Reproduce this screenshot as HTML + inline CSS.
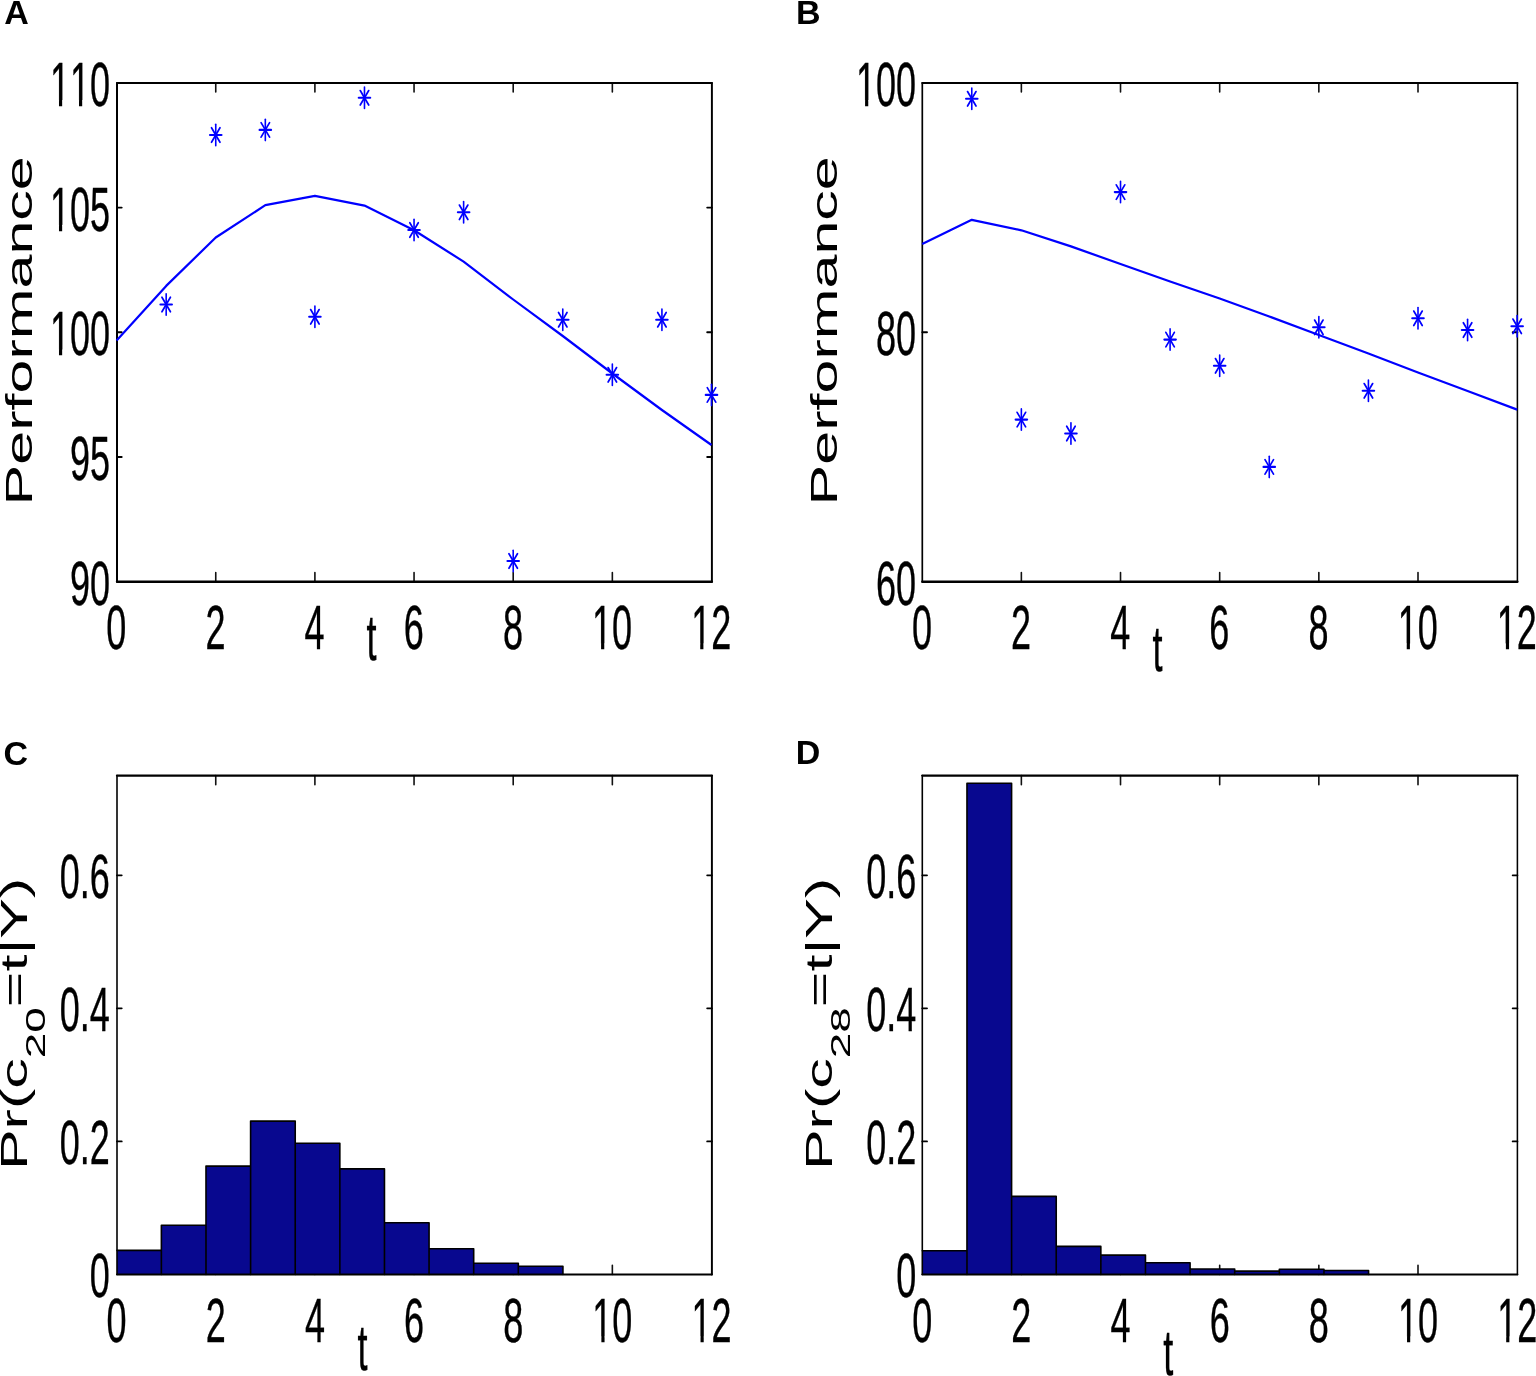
<!DOCTYPE html>
<html lang="en"><head><meta charset="utf-8"><title>Figure</title>
<style>
html,body{margin:0;padding:0;background:#fff;}
svg{display:block;}
svg text{font-family:"Liberation Sans", Arial, Helvetica, sans-serif;fill:#000;font-kerning:none;}
</style></head><body>
<svg width="1536" height="1376" viewBox="0 0 1536 1376">
<rect width="1536" height="1376" fill="#fff"/>
<g id="A">
<path d="M215.75,581.70v-9.1M215.75,82.90v9.1M314.90,581.70v-9.1M314.90,82.90v9.1M414.05,581.70v-9.1M414.05,82.90v9.1M513.20,581.70v-9.1M513.20,82.90v9.1M612.35,581.70v-9.1M612.35,82.90v9.1" stroke="#111" stroke-width="1.6" stroke-linecap="round" fill="none"/>
<path d="M117.00,207.60h4.7M711.90,207.60h-4.7M117.00,332.30h4.7M711.90,332.30h-4.7M117.00,457.00h4.7M711.90,457.00h-4.7" stroke="#000" stroke-width="1.9" stroke-linecap="round" fill="none"/>
<g stroke="#000" fill="none" stroke-linecap="round"><path d="M117.0,82.9V581.7" stroke-width="2.0"/><path d="M711.9,82.9V581.7" stroke-width="1.95"/><path d="M117.0,82.9H711.9" stroke-width="2.05"/><path d="M117.0,581.7H711.9" stroke-width="2.35"/></g>
<polyline points="116.60,340.40 166.18,285.90 215.75,237.50 265.33,205.20 314.90,195.90 364.48,205.60 414.05,230.30 463.62,261.60 513.20,299.50 562.77,336.00 612.35,373.50 661.93,410.00 711.50,445.00" fill="none" stroke="#0000ff" stroke-width="2.2" stroke-linejoin="round"/>
<g stroke="#0000ff" fill="none" stroke-linecap="round"><path d="M166.18,293.80V315.20" stroke-width="1.6"/><path d="M160.43,304.50H171.93" stroke-width="2.1"/><path d="M161.93,297.25L170.43,311.75M161.93,311.75L170.43,297.25" stroke-width="1.7"/></g>
<g stroke="#0000ff" fill="none" stroke-linecap="round"><path d="M215.75,124.30V145.70" stroke-width="1.6"/><path d="M210.00,135.00H221.50" stroke-width="2.1"/><path d="M211.50,127.75L220.00,142.25M211.50,142.25L220.00,127.75" stroke-width="1.7"/></g>
<g stroke="#0000ff" fill="none" stroke-linecap="round"><path d="M265.33,119.20V140.60" stroke-width="1.6"/><path d="M259.58,129.90H271.08" stroke-width="2.1"/><path d="M261.08,122.65L269.58,137.15M261.08,137.15L269.58,122.65" stroke-width="1.7"/></g>
<g stroke="#0000ff" fill="none" stroke-linecap="round"><path d="M314.90,306.10V327.50" stroke-width="1.6"/><path d="M309.15,316.80H320.65" stroke-width="2.1"/><path d="M310.65,309.55L319.15,324.05M310.65,324.05L319.15,309.55" stroke-width="1.7"/></g>
<g stroke="#0000ff" fill="none" stroke-linecap="round"><path d="M364.48,87.10V108.50" stroke-width="1.6"/><path d="M358.73,97.80H370.23" stroke-width="2.1"/><path d="M360.23,90.55L368.73,105.05M360.23,105.05L368.73,90.55" stroke-width="1.7"/></g>
<g stroke="#0000ff" fill="none" stroke-linecap="round"><path d="M414.05,219.30V240.70" stroke-width="1.6"/><path d="M408.30,230.00H419.80" stroke-width="2.1"/><path d="M409.80,222.75L418.30,237.25M409.80,237.25L418.30,222.75" stroke-width="1.7"/></g>
<g stroke="#0000ff" fill="none" stroke-linecap="round"><path d="M463.62,201.60V223.00" stroke-width="1.6"/><path d="M457.88,212.30H469.38" stroke-width="2.1"/><path d="M459.38,205.05L467.88,219.55M459.38,219.55L467.88,205.05" stroke-width="1.7"/></g>
<g stroke="#0000ff" fill="none" stroke-linecap="round"><path d="M513.20,550.30V571.70" stroke-width="1.6"/><path d="M507.45,561.00H518.95" stroke-width="2.1"/><path d="M508.95,553.75L517.45,568.25M508.95,568.25L517.45,553.75" stroke-width="1.7"/></g>
<g stroke="#0000ff" fill="none" stroke-linecap="round"><path d="M562.77,309.00V330.40" stroke-width="1.6"/><path d="M557.02,319.70H568.52" stroke-width="2.1"/><path d="M558.52,312.45L567.02,326.95M558.52,326.95L567.02,312.45" stroke-width="1.7"/></g>
<g stroke="#0000ff" fill="none" stroke-linecap="round"><path d="M612.35,364.10V385.50" stroke-width="1.6"/><path d="M606.60,374.80H618.10" stroke-width="2.1"/><path d="M608.10,367.55L616.60,382.05M608.10,382.05L616.60,367.55" stroke-width="1.7"/></g>
<g stroke="#0000ff" fill="none" stroke-linecap="round"><path d="M661.93,309.00V330.40" stroke-width="1.6"/><path d="M656.18,319.70H667.68" stroke-width="2.1"/><path d="M657.68,312.45L666.18,326.95M657.68,326.95L666.18,312.45" stroke-width="1.7"/></g>
<g stroke="#0000ff" fill="none" stroke-linecap="round"><path d="M711.50,384.20V405.60" stroke-width="1.6"/><path d="M705.75,394.90H717.25" stroke-width="2.1"/><path d="M707.25,387.65L715.75,402.15M707.25,402.15L715.75,387.65" stroke-width="1.7"/></g>
<text transform="translate(116.30,649.10) scale(0.5715,1)" font-size="63.0" text-anchor="middle" stroke="#000" stroke-width="0.4">0</text>
<text transform="translate(215.45,649.10) scale(0.5715,1)" font-size="63.0" text-anchor="middle" stroke="#000" stroke-width="0.4">2</text>
<text transform="translate(314.60,649.10) scale(0.5715,1)" font-size="63.0" text-anchor="middle" stroke="#000" stroke-width="0.4">4</text>
<text transform="translate(413.75,649.10) scale(0.5715,1)" font-size="63.0" text-anchor="middle" stroke="#000" stroke-width="0.4">6</text>
<text transform="translate(512.90,649.10) scale(0.5715,1)" font-size="63.0" text-anchor="middle" stroke="#000" stroke-width="0.4">8</text>
<text transform="translate(612.05,649.10) scale(0.5715,1)" font-size="63.0" text-anchor="middle" stroke="#000" stroke-width="0.4">10</text>
<rect x="593.57" y="643.49" width="7.51" height="7.31" fill="#fff"/>
<rect x="604.26" y="643.49" width="7.23" height="7.31" fill="#fff"/>
<text transform="translate(711.20,649.10) scale(0.5715,1)" font-size="63.0" text-anchor="middle" stroke="#000" stroke-width="0.4">12</text>
<rect x="692.72" y="643.49" width="7.51" height="7.31" fill="#fff"/>
<rect x="703.41" y="643.49" width="7.23" height="7.31" fill="#fff"/>
<text transform="translate(110.00,105.80) scale(0.5715,1)" font-size="63.0" text-anchor="end" stroke="#000" stroke-width="0.4">110</text>
<rect x="51.47" y="100.19" width="7.51" height="7.31" fill="#fff"/>
<rect x="62.16" y="100.19" width="7.23" height="7.31" fill="#fff"/>
<rect x="71.49" y="100.19" width="7.51" height="7.31" fill="#fff"/>
<rect x="82.19" y="100.19" width="7.23" height="7.31" fill="#fff"/>
<text transform="translate(110.00,230.50) scale(0.5715,1)" font-size="63.0" text-anchor="end" stroke="#000" stroke-width="0.4">105</text>
<rect x="51.47" y="224.89" width="7.51" height="7.31" fill="#fff"/>
<rect x="62.16" y="224.89" width="7.23" height="7.31" fill="#fff"/>
<text transform="translate(110.00,355.20) scale(0.5715,1)" font-size="63.0" text-anchor="end" stroke="#000" stroke-width="0.4">100</text>
<rect x="51.47" y="349.59" width="7.51" height="7.31" fill="#fff"/>
<rect x="62.16" y="349.59" width="7.23" height="7.31" fill="#fff"/>
<text transform="translate(110.00,479.90) scale(0.5715,1)" font-size="63.0" text-anchor="end" stroke="#000" stroke-width="0.4">95</text>
<text transform="translate(110.00,604.60) scale(0.5715,1)" font-size="63.0" text-anchor="end" stroke="#000" stroke-width="0.4">90</text>
<text transform="translate(371.60,659.60) scale(0.56,1)" font-size="64.5" text-anchor="middle" stroke="#000" stroke-width="0.4">t</text>
<text transform="translate(31.9,330.8) scale(0.6,1) rotate(-90)" font-size="61" text-anchor="middle">Performance</text>
</g>
<g id="B">
<path d="M1021.36,581.70v-9.1M1021.36,82.90v9.1M1120.52,581.70v-9.1M1120.52,82.90v9.1M1219.68,581.70v-9.1M1219.68,82.90v9.1M1318.84,581.70v-9.1M1318.84,82.90v9.1M1418.00,581.70v-9.1M1418.00,82.90v9.1" stroke="#111" stroke-width="1.6" stroke-linecap="round" fill="none"/>
<path d="M922.30,332.30h4.7M1517.40,332.30h-4.7" stroke="#000" stroke-width="1.9" stroke-linecap="round" fill="none"/>
<g stroke="#000" fill="none" stroke-linecap="round"><path d="M922.3,82.9V581.7" stroke-width="1.7"/><path d="M1517.4,82.9V581.7" stroke-width="1.55"/><path d="M922.3,82.9H1517.4" stroke-width="2.05"/><path d="M922.3,581.7H1517.4" stroke-width="2.35"/></g>
<polyline points="922.20,244.00 971.78,219.80 1021.36,230.30 1070.94,246.40 1120.52,264.00 1170.10,281.50 1219.68,298.50 1269.26,316.50 1318.84,335.00 1368.42,353.50 1418.00,372.50 1467.58,391.00 1517.16,409.60" fill="none" stroke="#0000ff" stroke-width="2.2" stroke-linejoin="round"/>
<g stroke="#0000ff" fill="none" stroke-linecap="round"><path d="M971.78,88.10V109.50" stroke-width="1.6"/><path d="M966.03,98.80H977.53" stroke-width="2.1"/><path d="M967.53,91.55L976.03,106.05M967.53,106.05L976.03,91.55" stroke-width="1.7"/></g>
<g stroke="#0000ff" fill="none" stroke-linecap="round"><path d="M1021.36,408.90V430.30" stroke-width="1.6"/><path d="M1015.61,419.60H1027.11" stroke-width="2.1"/><path d="M1017.11,412.35L1025.61,426.85M1017.11,426.85L1025.61,412.35" stroke-width="1.7"/></g>
<g stroke="#0000ff" fill="none" stroke-linecap="round"><path d="M1070.94,422.80V444.20" stroke-width="1.6"/><path d="M1065.19,433.50H1076.69" stroke-width="2.1"/><path d="M1066.69,426.25L1075.19,440.75M1066.69,440.75L1075.19,426.25" stroke-width="1.7"/></g>
<g stroke="#0000ff" fill="none" stroke-linecap="round"><path d="M1120.52,181.40V202.80" stroke-width="1.6"/><path d="M1114.77,192.10H1126.27" stroke-width="2.1"/><path d="M1116.27,184.85L1124.77,199.35M1116.27,199.35L1124.77,184.85" stroke-width="1.7"/></g>
<g stroke="#0000ff" fill="none" stroke-linecap="round"><path d="M1170.10,328.90V350.30" stroke-width="1.6"/><path d="M1164.35,339.60H1175.85" stroke-width="2.1"/><path d="M1165.85,332.35L1174.35,346.85M1165.85,346.85L1174.35,332.35" stroke-width="1.7"/></g>
<g stroke="#0000ff" fill="none" stroke-linecap="round"><path d="M1219.68,355.10V376.50" stroke-width="1.6"/><path d="M1213.93,365.80H1225.43" stroke-width="2.1"/><path d="M1215.43,358.55L1223.93,373.05M1215.43,373.05L1223.93,358.55" stroke-width="1.7"/></g>
<g stroke="#0000ff" fill="none" stroke-linecap="round"><path d="M1269.26,456.20V477.60" stroke-width="1.6"/><path d="M1263.51,466.90H1275.01" stroke-width="2.1"/><path d="M1265.01,459.65L1273.51,474.15M1265.01,474.15L1273.51,459.65" stroke-width="1.7"/></g>
<g stroke="#0000ff" fill="none" stroke-linecap="round"><path d="M1318.84,316.60V338.00" stroke-width="1.6"/><path d="M1313.09,327.30H1324.59" stroke-width="2.1"/><path d="M1314.59,320.05L1323.09,334.55M1314.59,334.55L1323.09,320.05" stroke-width="1.7"/></g>
<g stroke="#0000ff" fill="none" stroke-linecap="round"><path d="M1368.42,380.10V401.50" stroke-width="1.6"/><path d="M1362.67,390.80H1374.17" stroke-width="2.1"/><path d="M1364.17,383.55L1372.67,398.05M1364.17,398.05L1372.67,383.55" stroke-width="1.7"/></g>
<g stroke="#0000ff" fill="none" stroke-linecap="round"><path d="M1418.00,307.60V329.00" stroke-width="1.6"/><path d="M1412.25,318.30H1423.75" stroke-width="2.1"/><path d="M1413.75,311.05L1422.25,325.55M1413.75,325.55L1422.25,311.05" stroke-width="1.7"/></g>
<g stroke="#0000ff" fill="none" stroke-linecap="round"><path d="M1467.58,319.30V340.70" stroke-width="1.6"/><path d="M1461.83,330.00H1473.33" stroke-width="2.1"/><path d="M1463.33,322.75L1471.83,337.25M1463.33,337.25L1471.83,322.75" stroke-width="1.7"/></g>
<g stroke="#0000ff" fill="none" stroke-linecap="round"><path d="M1517.16,315.60V337.00" stroke-width="1.6"/><path d="M1511.41,326.30H1522.91" stroke-width="2.1"/><path d="M1512.91,319.05L1521.41,333.55M1512.91,333.55L1521.41,319.05" stroke-width="1.7"/></g>
<text transform="translate(921.90,649.10) scale(0.5715,1)" font-size="63.0" text-anchor="middle" stroke="#000" stroke-width="0.4">0</text>
<text transform="translate(1021.06,649.10) scale(0.5715,1)" font-size="63.0" text-anchor="middle" stroke="#000" stroke-width="0.4">2</text>
<text transform="translate(1120.22,649.10) scale(0.5715,1)" font-size="63.0" text-anchor="middle" stroke="#000" stroke-width="0.4">4</text>
<text transform="translate(1219.38,649.10) scale(0.5715,1)" font-size="63.0" text-anchor="middle" stroke="#000" stroke-width="0.4">6</text>
<text transform="translate(1318.54,649.10) scale(0.5715,1)" font-size="63.0" text-anchor="middle" stroke="#000" stroke-width="0.4">8</text>
<text transform="translate(1417.70,649.10) scale(0.5715,1)" font-size="63.0" text-anchor="middle" stroke="#000" stroke-width="0.4">10</text>
<rect x="1399.22" y="643.49" width="7.51" height="7.31" fill="#fff"/>
<rect x="1409.91" y="643.49" width="7.23" height="7.31" fill="#fff"/>
<text transform="translate(1516.86,649.10) scale(0.5715,1)" font-size="63.0" text-anchor="middle" stroke="#000" stroke-width="0.4">12</text>
<rect x="1498.38" y="643.49" width="7.51" height="7.31" fill="#fff"/>
<rect x="1509.07" y="643.49" width="7.23" height="7.31" fill="#fff"/>
<text transform="translate(916.10,105.80) scale(0.5715,1)" font-size="63.0" text-anchor="end" stroke="#000" stroke-width="0.4">100</text>
<rect x="857.57" y="100.19" width="7.51" height="7.31" fill="#fff"/>
<rect x="868.26" y="100.19" width="7.23" height="7.31" fill="#fff"/>
<text transform="translate(916.10,355.20) scale(0.5715,1)" font-size="63.0" text-anchor="end" stroke="#000" stroke-width="0.4">80</text>
<text transform="translate(916.10,604.60) scale(0.5715,1)" font-size="63.0" text-anchor="end" stroke="#000" stroke-width="0.4">60</text>
<text transform="translate(1157.40,670.80) scale(0.56,1)" font-size="64.5" text-anchor="middle" stroke="#000" stroke-width="0.4">t</text>
<text transform="translate(837.1,330.8) scale(0.6,1) rotate(-90)" font-size="61" text-anchor="middle">Performance</text>
</g>
<g id="C">
<path d="M215.75,1274.40v-9.1M215.75,775.60v9.1M314.90,1274.40v-9.1M314.90,775.60v9.1M414.05,1274.40v-9.1M414.05,775.60v9.1M513.20,1274.40v-9.1M513.20,775.60v9.1M612.35,1274.40v-9.1M612.35,775.60v9.1" stroke="#111" stroke-width="1.6" stroke-linecap="round" fill="none"/>
<path d="M117.00,1141.39h4.7M711.90,1141.39h-4.7M117.00,1008.37h4.7M711.90,1008.37h-4.7M117.00,875.36h4.7M711.90,875.36h-4.7" stroke="#000" stroke-width="1.9" stroke-linecap="round" fill="none"/>
<rect x="117.00" y="1250.40" width="44.37" height="24.00" fill="#08088f"/>
<rect x="161.37" y="1225.20" width="44.62" height="49.20" fill="#08088f"/>
<rect x="205.99" y="1166.10" width="44.62" height="108.30" fill="#08088f"/>
<rect x="250.60" y="1121.10" width="44.62" height="153.30" fill="#08088f"/>
<rect x="295.22" y="1143.30" width="44.62" height="131.10" fill="#08088f"/>
<rect x="339.84" y="1168.90" width="44.62" height="105.50" fill="#08088f"/>
<rect x="384.46" y="1222.80" width="44.62" height="51.60" fill="#08088f"/>
<rect x="429.07" y="1248.80" width="44.62" height="25.60" fill="#08088f"/>
<rect x="473.69" y="1263.20" width="44.62" height="11.20" fill="#08088f"/>
<rect x="518.31" y="1266.20" width="44.62" height="8.20" fill="#08088f"/>
<path d="M117.00,1250.40H161.37V1274.40M161.37,1274.40V1225.20H205.99V1274.40M205.99,1274.40V1166.10H250.60V1274.40M250.60,1274.40V1121.10H295.22V1274.40M295.22,1274.40V1143.30H339.84V1274.40M339.84,1274.40V1168.90H384.46V1274.40M384.46,1274.40V1222.80H429.07V1274.40M429.07,1274.40V1248.80H473.69V1274.40M473.69,1274.40V1263.20H518.31V1274.40M518.31,1274.40V1266.20H562.93V1274.40" fill="none" stroke="#000" stroke-width="1.6" stroke-linejoin="round" stroke-linecap="round"/>
<g stroke="#000" fill="none" stroke-linecap="round"><path d="M117.0,775.6V1274.4" stroke-width="1.6"/><path d="M711.9,775.6V1274.4" stroke-width="1.95"/><path d="M117.0,775.6H711.9" stroke-width="2.3"/><path d="M117.0,1274.4H711.9" stroke-width="2.0"/></g>
<text transform="translate(116.60,1342.10) scale(0.5715,1)" font-size="63.0" text-anchor="middle" stroke="#000" stroke-width="0.4">0</text>
<text transform="translate(215.75,1342.10) scale(0.5715,1)" font-size="63.0" text-anchor="middle" stroke="#000" stroke-width="0.4">2</text>
<text transform="translate(314.90,1342.10) scale(0.5715,1)" font-size="63.0" text-anchor="middle" stroke="#000" stroke-width="0.4">4</text>
<text transform="translate(414.05,1342.10) scale(0.5715,1)" font-size="63.0" text-anchor="middle" stroke="#000" stroke-width="0.4">6</text>
<text transform="translate(513.20,1342.10) scale(0.5715,1)" font-size="63.0" text-anchor="middle" stroke="#000" stroke-width="0.4">8</text>
<text transform="translate(612.35,1342.10) scale(0.5715,1)" font-size="63.0" text-anchor="middle" stroke="#000" stroke-width="0.4">10</text>
<rect x="593.87" y="1336.49" width="7.51" height="7.31" fill="#fff"/>
<rect x="604.56" y="1336.49" width="7.23" height="7.31" fill="#fff"/>
<text transform="translate(711.50,1342.10) scale(0.5715,1)" font-size="63.0" text-anchor="middle" stroke="#000" stroke-width="0.4">12</text>
<rect x="693.02" y="1336.49" width="7.51" height="7.31" fill="#fff"/>
<rect x="703.71" y="1336.49" width="7.23" height="7.31" fill="#fff"/>
<text transform="translate(109.80,1297.30) scale(0.5715,1)" font-size="63.0" text-anchor="end" stroke="#000" stroke-width="0.4">0</text>
<text transform="translate(109.80,1164.29) scale(0.5715,1)" font-size="63.0" text-anchor="end" stroke="#000" stroke-width="0.4">0.2</text>
<text transform="translate(109.80,1031.27) scale(0.5715,1)" font-size="63.0" text-anchor="end" stroke="#000" stroke-width="0.4">0.4</text>
<text transform="translate(109.80,898.26) scale(0.5715,1)" font-size="63.0" text-anchor="end" stroke="#000" stroke-width="0.4">0.6</text>
<text transform="translate(362.40,1370.10) scale(0.56,1)" font-size="64.5" text-anchor="middle" stroke="#000" stroke-width="0.4">t</text>
<text transform="translate(27.2,1023.9) scale(0.6,1) rotate(-90)" font-size="61" text-anchor="middle">Pr(c<tspan font-size="46" dy="30">20</tspan><tspan dy="-30">=t|Y)</tspan></text>
</g>
<g id="D">
<path d="M1021.36,1274.40v-9.1M1021.36,775.60v9.1M1120.52,1274.40v-9.1M1120.52,775.60v9.1M1219.68,1274.40v-9.1M1219.68,775.60v9.1M1318.84,1274.40v-9.1M1318.84,775.60v9.1M1418.00,1274.40v-9.1M1418.00,775.60v9.1" stroke="#111" stroke-width="1.6" stroke-linecap="round" fill="none"/>
<path d="M922.30,1141.39h4.7M1517.40,1141.39h-4.7M922.30,1008.37h4.7M1517.40,1008.37h-4.7M922.30,875.36h4.7M1517.40,875.36h-4.7" stroke="#000" stroke-width="1.9" stroke-linecap="round" fill="none"/>
<rect x="922.30" y="1250.80" width="44.67" height="23.60" fill="#08088f"/>
<rect x="966.97" y="783.20" width="44.62" height="491.20" fill="#08088f"/>
<rect x="1011.59" y="1196.40" width="44.62" height="78.00" fill="#08088f"/>
<rect x="1056.22" y="1246.40" width="44.62" height="28.00" fill="#08088f"/>
<rect x="1100.84" y="1255.10" width="44.62" height="19.30" fill="#08088f"/>
<rect x="1145.46" y="1262.70" width="44.62" height="11.70" fill="#08088f"/>
<rect x="1190.08" y="1269.00" width="44.62" height="5.40" fill="#08088f"/>
<rect x="1234.70" y="1271.10" width="44.62" height="3.30" fill="#08088f"/>
<rect x="1279.33" y="1269.30" width="44.62" height="5.10" fill="#08088f"/>
<rect x="1323.95" y="1270.50" width="44.62" height="3.90" fill="#08088f"/>
<path d="M922.30,1250.80H966.97V1274.40M966.97,1274.40V783.20H1011.59V1274.40M1011.59,1274.40V1196.40H1056.22V1274.40M1056.22,1274.40V1246.40H1100.84V1274.40M1100.84,1274.40V1255.10H1145.46V1274.40M1145.46,1274.40V1262.70H1190.08V1274.40M1190.08,1274.40V1269.00H1234.70V1274.40M1234.70,1274.40V1271.10H1279.33V1274.40M1279.33,1274.40V1269.30H1323.95V1274.40M1323.95,1274.40V1270.50H1368.57V1274.40" fill="none" stroke="#000" stroke-width="1.6" stroke-linejoin="round" stroke-linecap="round"/>
<g stroke="#000" fill="none" stroke-linecap="round"><path d="M922.3,775.6V1274.4" stroke-width="1.6"/><path d="M1517.4,775.6V1274.4" stroke-width="1.55"/><path d="M922.3,775.6H1517.4" stroke-width="2.3"/><path d="M922.3,1274.4H1517.4" stroke-width="2.0"/></g>
<text transform="translate(922.20,1342.10) scale(0.5715,1)" font-size="63.0" text-anchor="middle" stroke="#000" stroke-width="0.4">0</text>
<text transform="translate(1021.36,1342.10) scale(0.5715,1)" font-size="63.0" text-anchor="middle" stroke="#000" stroke-width="0.4">2</text>
<text transform="translate(1120.52,1342.10) scale(0.5715,1)" font-size="63.0" text-anchor="middle" stroke="#000" stroke-width="0.4">4</text>
<text transform="translate(1219.68,1342.10) scale(0.5715,1)" font-size="63.0" text-anchor="middle" stroke="#000" stroke-width="0.4">6</text>
<text transform="translate(1318.84,1342.10) scale(0.5715,1)" font-size="63.0" text-anchor="middle" stroke="#000" stroke-width="0.4">8</text>
<text transform="translate(1418.00,1342.10) scale(0.5715,1)" font-size="63.0" text-anchor="middle" stroke="#000" stroke-width="0.4">10</text>
<rect x="1399.52" y="1336.49" width="7.51" height="7.31" fill="#fff"/>
<rect x="1410.21" y="1336.49" width="7.23" height="7.31" fill="#fff"/>
<text transform="translate(1517.16,1342.10) scale(0.5715,1)" font-size="63.0" text-anchor="middle" stroke="#000" stroke-width="0.4">12</text>
<rect x="1498.68" y="1336.49" width="7.51" height="7.31" fill="#fff"/>
<rect x="1509.37" y="1336.49" width="7.23" height="7.31" fill="#fff"/>
<text transform="translate(916.30,1297.30) scale(0.5715,1)" font-size="63.0" text-anchor="end" stroke="#000" stroke-width="0.4">0</text>
<text transform="translate(916.30,1164.29) scale(0.5715,1)" font-size="63.0" text-anchor="end" stroke="#000" stroke-width="0.4">0.2</text>
<text transform="translate(916.30,1031.27) scale(0.5715,1)" font-size="63.0" text-anchor="end" stroke="#000" stroke-width="0.4">0.4</text>
<text transform="translate(916.30,898.26) scale(0.5715,1)" font-size="63.0" text-anchor="end" stroke="#000" stroke-width="0.4">0.6</text>
<text transform="translate(1168.30,1374.70) scale(0.56,1)" font-size="64.5" text-anchor="middle" stroke="#000" stroke-width="0.4">t</text>
<text transform="translate(832.4000000000001,1023.9) scale(0.6,1) rotate(-90)" font-size="61" text-anchor="middle">Pr(c<tspan font-size="46" dy="30">28</tspan><tspan dy="-30">=t|Y)</tspan></text>
</g>
<text x="4.2" y="24" font-size="34" font-weight="bold">A</text>
<text x="795.9" y="24" font-size="34" font-weight="bold">B</text>
<text x="3.6" y="764.7" font-size="34" font-weight="bold">C</text>
<text x="795.7" y="764.2" font-size="34" font-weight="bold">D</text>
</svg>
</body></html>
